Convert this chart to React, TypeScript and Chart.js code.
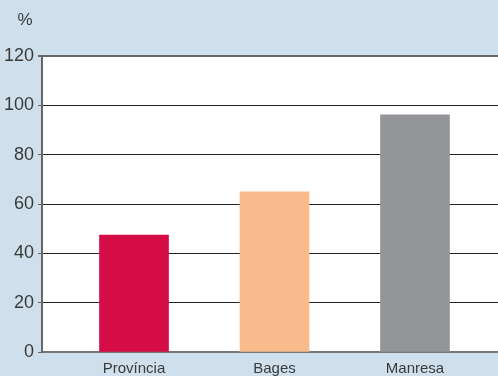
import React, { useEffect, useRef } from "react";
import { Chart, registerables } from "chart.js";

Chart.register(...registerables);

const categories = ["Província", "Bages", "Manresa"];
const values = [47.4, 64.9, 96.1];
const barColors = ["#d50c45", "#f9bb8b", "#939598"];
const yTicks = [0, 20, 40, 60, 80, 100, 120];
const unitLabel = "%";

const FONT = "'Liberation Sans', Arial, sans-serif";

export default function App() {
  const ref = useRef<HTMLCanvasElement | null>(null);

  useEffect(() => {
    const canvas = ref.current;
    if (!canvas) return;

    const bgPlugin = {
      id: "bgPlugin",
      beforeDraw(chart: any) {
        const { ctx, chartArea, width, height } = chart;
        ctx.save();
        ctx.fillStyle = "#cfe0ec";
        ctx.fillRect(0, 0, width, height);
        ctx.fillStyle = "#ffffff";
        ctx.fillRect(chartArea.left, chartArea.top, chartArea.right - chartArea.left, chartArea.bottom - chartArea.top);
        ctx.restore();
      },
      afterDraw(chart: any) {
        const { ctx } = chart;
        ctx.save();
        ctx.fillStyle = "#3a3a3a";
        ctx.font = "17px " + FONT;
        ctx.textAlign = "center";
        ctx.textBaseline = "middle";
        ctx.fillText(unitLabel, 25, 20);
        ctx.restore();
      },
    };

    const chart = new Chart(canvas, {
      type: "bar",
      data: {
        datasets: [
          {
            data: values.map((v, i) => ({ x: i + 1, y: v })),
            backgroundColor: barColors,
            borderWidth: 0,
            barThickness: 69,
          },
        ],
      },
      options: {
        animation: false,
        responsive: false,
        maintainAspectRatio: false,
        layout: { padding: { top: 56, right: 0, left: 0, bottom: 0 } },
        plugins: {
          legend: { display: false },
          tooltip: { enabled: false },
          title: { display: false },
        },
        scales: {
          x: {
            type: "linear",
            offset: false,
            min: 0.345,
            max: 3.591,
            afterBuildTicks(scale: any) {
              scale.ticks = categories.map((_, i) => ({ value: i + 1 }));
            },
            afterFit(scale: any) {
              scale.height = 24;
            },
            grid: { display: false, offset: false },
            border: { display: true, color: "#777777", width: 2 },
            ticks: {
              autoSkip: false,
              maxRotation: 0,
              padding: 0,
              color: "#3a3a3a",
              font: { family: FONT, size: 15 },
              callback: (v: any) => categories[Math.round(Number(v)) - 1] ?? "",
            },
          },
          y: {
            min: 0,
            max: 120,
            afterBuildTicks(scale: any) {
              scale.ticks = yTicks.map((v) => ({ value: v }));
            },
            afterFit(scale: any) {
              scale.width = 42;
            },
            grid: {
              color: (c: any) => (c.tick && c.tick.value === 120 ? "#666666" : "#222222"),
              lineWidth: (c: any) => (c.tick && c.tick.value === 120 ? 2 : 1),
              tickColor: "#666666",
              tickLength: 4,
              drawTicks: true,
            },
            border: { display: true, color: "#666666", width: 2 },
            ticks: {
              padding: 4,
              color: "#3a3a3a",
              font: { family: FONT, size: 18 },
            },
          },
        },
      },
      plugins: [bgPlugin],
    } as any);

    return () => chart.destroy();
  }, []);

  return (
    <div style={{ position: "fixed", left: 0, top: 0, width: 498, height: 376 }}>
      <canvas ref={ref} width={498} height={376} style={{ width: 498, height: 376, display: "block" }} />
    </div>
  );
}
